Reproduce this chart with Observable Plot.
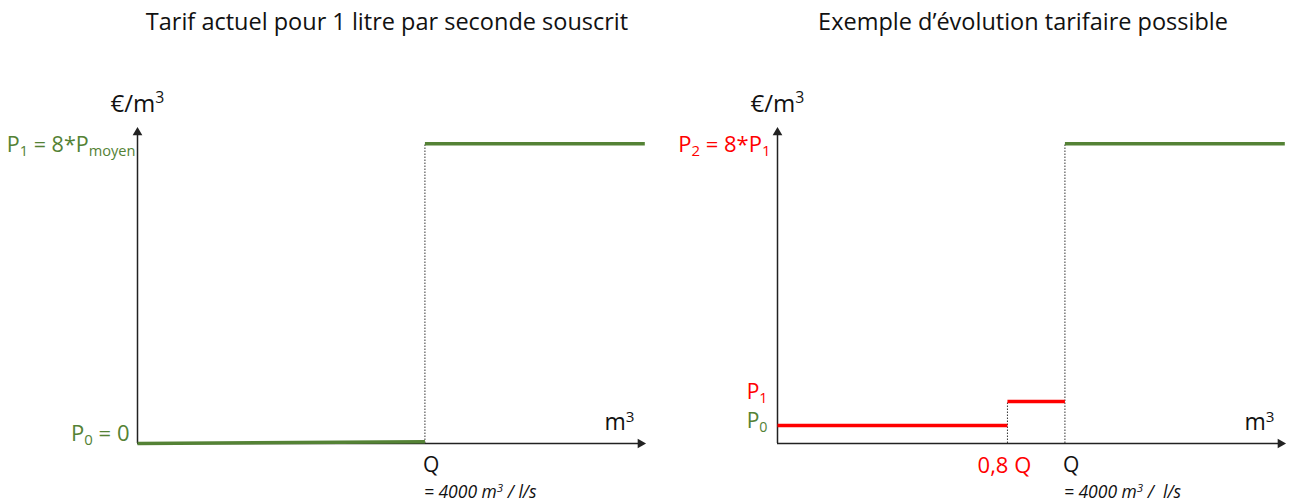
<!DOCTYPE html>
<html><head><meta charset="utf-8">
<script src="https://cdn.jsdelivr.net/npm/d3@7"></script>
<script src="https://cdn.jsdelivr.net/npm/@observablehq/plot@0.6"></script>
<style>
body{margin:0;background:#fff;}
#row{display:flex;width:1296px;height:504px;overflow:hidden;}
</style></head><body><div id="row"></div>
<script>
// ---- data (x in units of Q, y in units of P_moyen, schematic) ----
const titles = ["Tarif actuel pour 1 litre par seconde souscrit", "Exemple d’évolution tarifaire possible"];
const xMax = 1.75;   // end of the m³ axis
const yMax = 8.3;    // end of the €/m³ axis
const leftSteps = [
  {x1: 0, x2: 1, y1: 0, y2: 0.05, kind: "actuel"},
  {x1: 1, x2: 1.765, y1: 8, y2: 8, kind: "actuel"}
];
const leftDotted = [{x: 1, y: 8}];
const rightSteps = [
  {x1: 0, x2: 0.8, y1: 0.48, y2: 0.48, kind: "nouveau"},
  {x1: 0.8, x2: 1, y1: 1.12, y2: 1.12, kind: "nouveau"},
  {x1: 1, x2: 1.765, y1: 8, y2: 8, kind: "actuel"}
];
const rightDotted = [{x: 0.8, y: 1.12}, {x: 1, y: 8}];
const yAxisLabel = "€/m^{3}";
const xAxisLabel = "m^{3}";
const qLabel = "Q";
const qValueLabels = ["= 4000 m^{3} / l/s", "= 4000 m^{3} /  l/s"];
const leftYLabels = [{y: 8, label: "P_{1} = 8*P_{moyen}"}, {y: 0, label: "P_{0} = 0"}];
const rightYLabels = [{y: 8, label: "P_{2} = 8*P_{1}"}, {y: 1.12, label: "P_{1}"}, {y: 0.48, label: "P_{0}"}];
const rightXLabel = {x: 0.8, label: "0,8 Q"};

const green = "#548235", red = "#ff0000", ink = "#222";
const colorOf = k => k === "actuel" ? green : red;
const font = "Open Sans";

function richText(svg) {
  d3.select(svg).selectAll("text").each(function () {
    const s = this.textContent;
    if (!/[_^]\{/.test(s)) return;
    const parts = s.split(/([_^]\{[^}]*\})/).filter(p => p);
    this.textContent = "";
    for (const p of parts) {
      const t = d3.select(this).append("tspan");
      if (p.startsWith("_{")) t.text(p.slice(2, -1)).attr("baseline-shift", "-0.25em").attr("font-size", "68%");
      else if (p.startsWith("^{")) t.text(p.slice(2, -1)).attr("baseline-shift", "0.55em").attr("font-size", "66%");
      else t.text(p);
    }
  });
  return svg;
}

function axesMarks() {
  return [
    Plot.ruleX([0], {y1: 0, y2: yMax, stroke: ink, strokeWidth: 1.5}),
    Plot.ruleY([0], {x1: 0, x2: xMax, stroke: ink, strokeWidth: 1.5}),
    Plot.dot([{x: 0, y: yMax}], {x: "x", y: "y", symbol: "triangle", r: 3.6, fill: ink, stroke: null}),
    Plot.dot([{x: xMax, y: 0}], {x: "x", y: "y", symbol: "triangle", r: 3.6, fill: ink, stroke: null, rotate: 90}),
    Plot.text([yAxisLabel], {x: 0, y: yMax, text: d => d, dy: -28, fontSize: 24, fill: "#111"}),
    Plot.text([xAxisLabel], {x: xMax, y: 0, text: d => d, textAnchor: "end", dx: -6, dy: -21, fontSize: 23, fill: "#111"})
  ];
}

function panel(i, steps, dotted, marginLeft, marginRight, extra) {
  return Plot.plot({
    width: 648, height: 504,
    marginLeft, marginRight, marginTop: 132, marginBottom: 61,
    x: {domain: [0, xMax], axis: null},
    y: {domain: [0, yMax], axis: null},
    style: {fontFamily: font, background: "#fff", overflow: "visible"},
    marks: [
      Plot.ruleX(dotted, {x: "x", y1: 0, y2: "y", stroke: "#333", strokeWidth: 1, strokeDasharray: "1.5,1.5"}),
      ...axesMarks(),
      Plot.link(steps, {x1: "x1", x2: "x2", y1: "y1", y2: "y2", stroke: d => colorOf(d.kind), strokeWidth: 3.5}),
      Plot.text([titles[i]], {frameAnchor: "top", lineAnchor: "middle", text: d => d, dy: -110, dx: i ? -6 : -2, fontSize: 23.5, fill: "#111"}),
      Plot.text([qLabel], {x: 1, y: 0, text: d => d, textAnchor: "start", dx: -2, dy: 22, fontSize: 21, fill: "#111"}),
      Plot.text([qValueLabels[i]], {x: 1, y: 0, text: d => d, textAnchor: "start", dx: -1, dy: 48.5, fontSize: 17.5, fontStyle: "italic", fill: "#111"}),
      ...extra
    ]
  });
}

const left = panel(0, leftSteps, leftDotted, 137, 8, [
  Plot.text(leftYLabels.slice(0, 1), {x: 0, y: "y", text: "label", textAnchor: "end", dx: -2, dy: 1, fontSize: 21.5, fill: green}),
  Plot.text(leftYLabels.slice(1), {x: 0, y: "y", text: "label", textAnchor: "end", dx: -8, dy: -10, fontSize: 22, fill: green})
]);
const right = panel(1, rightSteps, rightDotted, 129, 16, [
  Plot.text(rightYLabels.slice(0, 1), {x: 0, y: "y", text: "label", textAnchor: "end", dx: -7, dy: 1, fontSize: 22, fill: red}),
  Plot.text(rightYLabels.slice(1, 2), {x: 0, y: "y", text: "label", textAnchor: "end", dx: -10, dy: -9, fontSize: 21, fill: red}),
  Plot.text(rightYLabels.slice(2), {x: 0, y: "y", text: "label", textAnchor: "end", dx: -10, dy: -4, fontSize: 21, fill: green}),
  Plot.text([rightXLabel], {x: "x", y: 0, text: "label", textAnchor: "middle", dx: -3, dy: 22, fontSize: 22, fill: red})
]);
document.getElementById("row").append(richText(left), richText(right));
</script>
</body></html>
